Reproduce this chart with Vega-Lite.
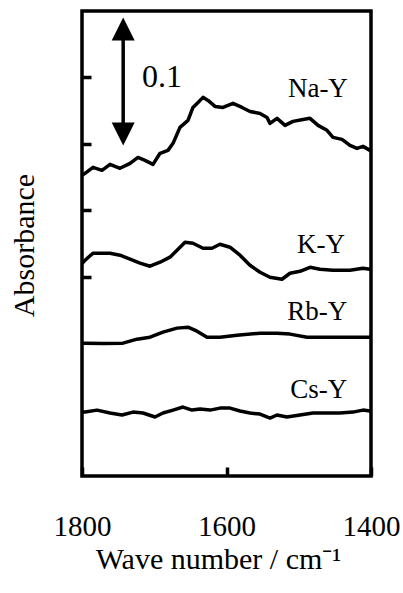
{
"$schema": "https://vega.github.io/schema/vega-lite/v6.json",
"width": 289, "height": 465,
"autosize": "none",
"padding": {"left": 82, "top": 11, "right": 32, "bottom": 117},
"background": "white",
"config": {"view": {"stroke": "black", "strokeWidth": 3.5}, "font": "Liberation Serif"},
"datasets": {
"spectra": [
{"s":"Na-Y","w":1800,"a":0.2263},{"s":"Na-Y","w":1795.8,"a":0.2278},{"s":"Na-Y","w":1784.8,"a":0.2323},{"s":"Na-Y","w":1772.3,"a":0.2301},{"s":"Na-Y","w":1761.2,"a":0.2346},{"s":"Na-Y","w":1747.4,"a":0.2316},{"s":"Na-Y","w":1733.5,"a":0.2353},{"s":"Na-Y","w":1722.5,"a":0.2398},{"s":"Na-Y","w":1712.8,"a":0.2376},{"s":"Na-Y","w":1701.7,"a":0.2346},{"s":"Na-Y","w":1692.0,"a":0.2429},{"s":"Na-Y","w":1681.0,"a":0.2451},{"s":"Na-Y","w":1674.0,"a":0.2504},{"s":"Na-Y","w":1664.4,"a":0.2624},{"s":"Na-Y","w":1653.3,"a":0.2677},{"s":"Na-Y","w":1646.4,"a":0.2774},{"s":"Na-Y","w":1639.4,"a":0.2812},{"s":"Na-Y","w":1632.5,"a":0.2850},{"s":"Na-Y","w":1625.6,"a":0.2827},{"s":"Na-Y","w":1615.9,"a":0.2782},{"s":"Na-Y","w":1604.8,"a":0.2774},{"s":"Na-Y","w":1591.0,"a":0.2805},{"s":"Na-Y","w":1578.5,"a":0.2774},{"s":"Na-Y","w":1567.5,"a":0.2744},{"s":"Na-Y","w":1553.6,"a":0.2729},{"s":"Na-Y","w":1543.9,"a":0.2699},{"s":"Na-Y","w":1539.8,"a":0.2654},{"s":"Na-Y","w":1530.1,"a":0.2692},{"s":"Na-Y","w":1519.0,"a":0.2639},{"s":"Na-Y","w":1507.9,"a":0.2669},{"s":"Na-Y","w":1494.1,"a":0.2684},{"s":"Na-Y","w":1484.4,"a":0.2692},{"s":"Na-Y","w":1473.3,"a":0.2639},{"s":"Na-Y","w":1460.9,"a":0.2602},{"s":"Na-Y","w":1452.6,"a":0.2549},{"s":"Na-Y","w":1440.1,"a":0.2534},{"s":"Na-Y","w":1429.1,"a":0.2489},{"s":"Na-Y","w":1419.4,"a":0.2466},{"s":"Na-Y","w":1411.1,"a":0.2481},{"s":"Na-Y","w":1401.4,"a":0.2451},{"s":"Na-Y","w":1400,"a":0.2444},
{"s":"K-Y","w":1800,"a":0.1600},{"s":"K-Y","w":1795.8,"a":0.1624},{"s":"K-Y","w":1784.8,"a":0.1677},{"s":"K-Y","w":1761.2,"a":0.1677},{"s":"K-Y","w":1747.4,"a":0.1662},{"s":"K-Y","w":1733.5,"a":0.1632},{"s":"K-Y","w":1719.7,"a":0.1602},{"s":"K-Y","w":1705.9,"a":0.1579},{"s":"K-Y","w":1692.0,"a":0.1609},{"s":"K-Y","w":1678.2,"a":0.1647},{"s":"K-Y","w":1668.5,"a":0.1699},{"s":"K-Y","w":1657.4,"a":0.1759},{"s":"K-Y","w":1646.4,"a":0.1752},{"s":"K-Y","w":1632.5,"a":0.1714},{"s":"K-Y","w":1620.1,"a":0.1714},{"s":"K-Y","w":1609.0,"a":0.1744},{"s":"K-Y","w":1595.2,"a":0.1722},{"s":"K-Y","w":1581.3,"a":0.1662},{"s":"K-Y","w":1567.5,"a":0.1586},{"s":"K-Y","w":1553.6,"a":0.1534},{"s":"K-Y","w":1539.8,"a":0.1496},{"s":"K-Y","w":1523.2,"a":0.1481},{"s":"K-Y","w":1512.1,"a":0.1526},{"s":"K-Y","w":1498.3,"a":0.1541},{"s":"K-Y","w":1484.4,"a":0.1571},{"s":"K-Y","w":1470.6,"a":0.1556},{"s":"K-Y","w":1452.6,"a":0.1549},{"s":"K-Y","w":1429.1,"a":0.1549},{"s":"K-Y","w":1411.1,"a":0.1564},{"s":"K-Y","w":1401.4,"a":0.1556},{"s":"K-Y","w":1400,"a":0.1556},
{"s":"Rb-Y","w":1800,"a":0.1000},{"s":"Rb-Y","w":1795.8,"a":0.1000},{"s":"Rb-Y","w":1770.9,"a":0.0998},{"s":"Rb-Y","w":1743.3,"a":0.1000},{"s":"Rb-Y","w":1723.9,"a":0.1030},{"s":"Rb-Y","w":1705.9,"a":0.1045},{"s":"Rb-Y","w":1687.9,"a":0.1083},{"s":"Rb-Y","w":1668.5,"a":0.1113},{"s":"Rb-Y","w":1653.3,"a":0.1120},{"s":"Rb-Y","w":1640.8,"a":0.1090},{"s":"Rb-Y","w":1627.0,"a":0.1045},{"s":"Rb-Y","w":1609.0,"a":0.1045},{"s":"Rb-Y","w":1585.5,"a":0.1060},{"s":"Rb-Y","w":1553.6,"a":0.1075},{"s":"Rb-Y","w":1530.1,"a":0.1075},{"s":"Rb-Y","w":1512.1,"a":0.1068},{"s":"Rb-Y","w":1488.6,"a":0.1045},{"s":"Rb-Y","w":1460.9,"a":0.1045},{"s":"Rb-Y","w":1433.2,"a":0.1045},{"s":"Rb-Y","w":1401.4,"a":0.1045},{"s":"Rb-Y","w":1400,"a":0.1045},
{"s":"Cs-Y","w":1800,"a":0.0481},{"s":"Cs-Y","w":1795.8,"a":0.0481},{"s":"Cs-Y","w":1779.2,"a":0.0496},{"s":"Cs-Y","w":1761.2,"a":0.0474},{"s":"Cs-Y","w":1744.6,"a":0.0459},{"s":"Cs-Y","w":1729.4,"a":0.0481},{"s":"Cs-Y","w":1715.6,"a":0.0474},{"s":"Cs-Y","w":1699.0,"a":0.0444},{"s":"Cs-Y","w":1687.9,"a":0.0474},{"s":"Cs-Y","w":1674.0,"a":0.0496},{"s":"Cs-Y","w":1660.2,"a":0.0519},{"s":"Cs-Y","w":1647.7,"a":0.0496},{"s":"Cs-Y","w":1636.7,"a":0.0504},{"s":"Cs-Y","w":1622.8,"a":0.0496},{"s":"Cs-Y","w":1609.0,"a":0.0511},{"s":"Cs-Y","w":1595.2,"a":0.0511},{"s":"Cs-Y","w":1581.3,"a":0.0489},{"s":"Cs-Y","w":1567.5,"a":0.0474},{"s":"Cs-Y","w":1553.6,"a":0.0466},{"s":"Cs-Y","w":1539.8,"a":0.0436},{"s":"Cs-Y","w":1530.1,"a":0.0459},{"s":"Cs-Y","w":1516.3,"a":0.0444},{"s":"Cs-Y","w":1498.3,"a":0.0459},{"s":"Cs-Y","w":1480.3,"a":0.0474},{"s":"Cs-Y","w":1460.9,"a":0.0474},{"s":"Cs-Y","w":1443.0,"a":0.0474},{"s":"Cs-Y","w":1425.0,"a":0.0481},{"s":"Cs-Y","w":1411.1,"a":0.0496},{"s":"Cs-Y","w":1401.4,"a":0.0489},{"s":"Cs-Y","w":1400,"a":0.0489}
],
"labels": [
{"t":"Na-Y","w":1432,"a":0.285},
{"t":"K-Y","w":1436,"a":0.1677},
{"t":"Rb-Y","w":1433,"a":0.1173},
{"t":"Cs-Y","w":1433,"a":0.0586}
],
"scalebar": [{"t":"0.1","w":1717,"a":0.2925,"a1":0.262,"a2":0.332}],
"heads": [{"dir":"up","w":1743,"a":0.3365},{"dir":"down","w":1743,"a":0.2575}]
},
"layer": [
{"data": {"name": "spectra"},
 "mark": {"type": "line", "color": "black", "strokeWidth": 3.5, "strokeJoin": "round"},
 "encoding": {
  "x": {"field": "w", "type": "quantitative", "scale": {"domain": [1800, 1400], "nice": false, "zero": false},
        "axis": {"values": [1800, 1600, 1400], "format": "d", "grid": false, "domain": false, "tickSize": -9, "tickWidth": 3.5, "tickColor": "black",
                 "labelFontSize": 29, "labelFont": "Liberation Serif", "labelColor": "black", "labelBaseline": "alphabetic", "labelPadding": 68, "labelFlush": false,
                 "title": "Wave number / cm⁻¹", "titleFont": "Liberation Serif", "titleFontSize": 30, "titleFontWeight": "normal", "titleColor": "black",
                 "titleX": 136, "titleY": 92, "titleBaseline": "alphabetic", "titleAlign": "center"}},
  "y": {"field": "a", "type": "quantitative", "scale": {"domain": [0, 0.35], "nice": false},
        "axis": {"values": [0.15, 0.2, 0.25, 0.3], "labels": false, "grid": false, "domain": false, "tickSize": -9, "tickWidth": 3.5, "tickColor": "black",
                 "title": "Absorbance", "titleFont": "Liberation Serif", "titleFontSize": 30, "titleFontWeight": "normal", "titleColor": "black",
                 "titleX": -49, "titleY": 234, "titleAngle": -90, "titleBaseline": "alphabetic", "titleAlign": "center"}},
  "detail": {"field": "s", "type": "nominal"}
 }},
{"data": {"name": "labels"},
 "mark": {"type": "text", "align": "right", "baseline": "alphabetic", "fontSize": 27, "font": "Liberation Serif", "color": "black"},
 "encoding": {"x": {"field": "w", "type": "quantitative"}, "y": {"field": "a", "type": "quantitative"}, "text": {"field": "t"}}},
{"data": {"name": "scalebar"},
 "mark": {"type": "text", "align": "left", "baseline": "alphabetic", "fontSize": 32, "font": "Liberation Serif", "color": "black"},
 "encoding": {"x": {"field": "w", "type": "quantitative"}, "y": {"field": "a", "type": "quantitative"}, "text": {"field": "t"}}},
{"data": {"name": "heads"},
 "mark": {"type": "rule", "color": "black", "strokeWidth": 3.5},
 "encoding": {"x": {"field": "w", "type": "quantitative", "aggregate": "min"}, "y": {"field": "a", "type": "quantitative", "aggregate": "min"}, "y2": {"field": "a", "aggregate": "max"}}},
{"data": {"name": "heads"},
 "transform": [{"filter": "datum.dir === 'up'"}],
 "mark": {"type": "point", "shape": "M0,-1L1,1L-1,1Z", "size": 529, "filled": true, "color": "black", "opacity": 1},
 "encoding": {"x": {"field": "w", "type": "quantitative"}, "y": {"field": "a", "type": "quantitative"}}},
{"data": {"name": "heads"},
 "transform": [{"filter": "datum.dir === 'down'"}],
 "mark": {"type": "point", "shape": "M0,1L1,-1L-1,-1Z", "size": 529, "filled": true, "color": "black", "opacity": 1},
 "encoding": {"x": {"field": "w", "type": "quantitative"}, "y": {"field": "a", "type": "quantitative"}}}
]
}
